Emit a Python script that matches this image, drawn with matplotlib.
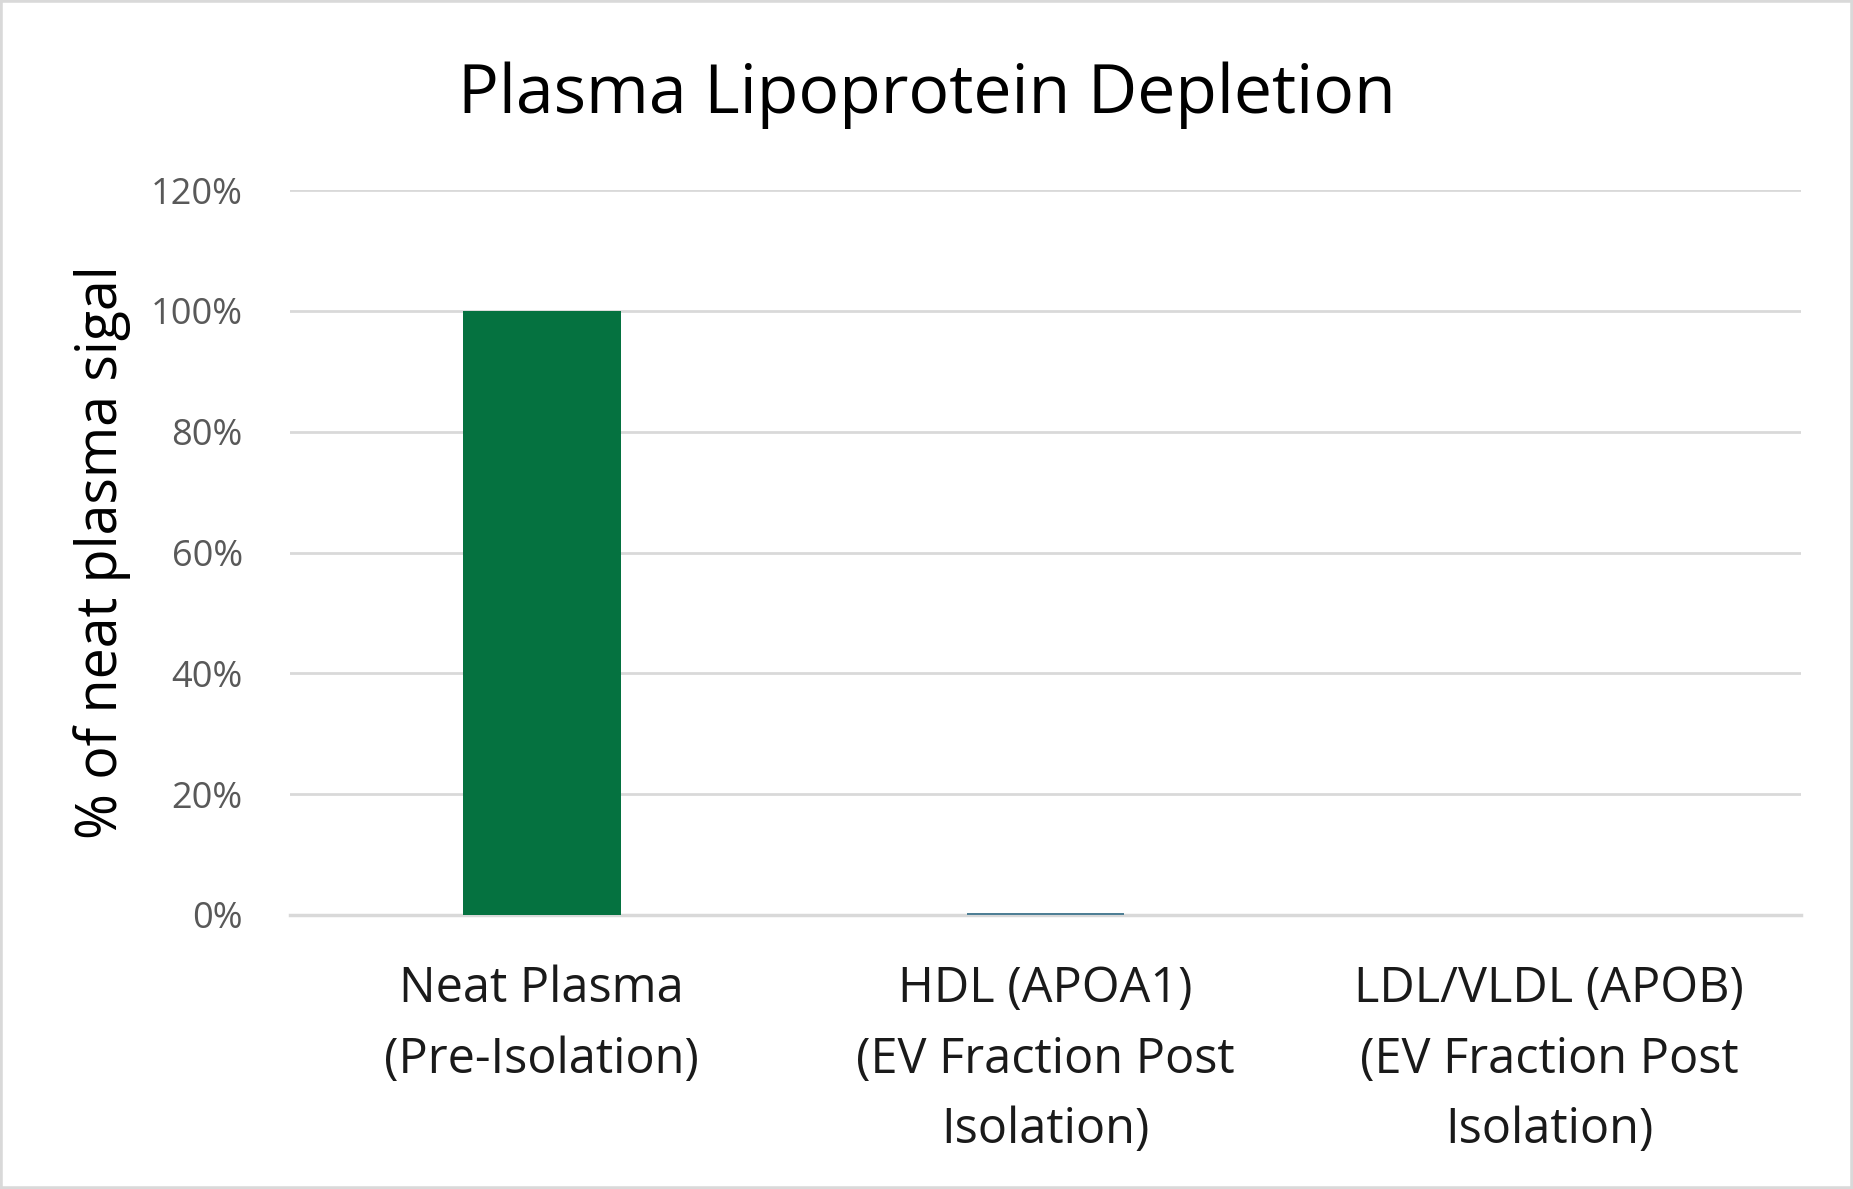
import matplotlib.pyplot as plt
from matplotlib.ticker import PercentFormatter
from matplotlib.patches import Rectangle

plt.rcParams['font.family'] = ['Open Sans', 'DejaVu Sans']

categories = ['Neat Plasma\n(Pre-Isolation)',
              'HDL (APOA1)\n(EV Fraction Post\nIsolation)',
              'LDL/VLDL (APOB)\n(EV Fraction Post\nIsolation)']
values = [100.0, 0.3, 0.0]
colors = ['#057240', '#4F7F95', '#4F7F95']

fig = plt.figure(figsize=(18.53, 11.89), dpi=100)
ax = fig.add_axes([290 / 1853, 1 - 915 / 1189, (1801 - 290) / 1853, (915 - 190) / 1189])

x = range(len(categories))
ax.bar(x, values, width=0.313, color=colors, zorder=3)

ax.set_ylim(0, 120)
ax.set_xlim(-0.5, 2.5)
ax.set_yticks(range(0, 121, 20))
ax.yaxis.set_major_formatter(PercentFormatter(decimals=0))
ax.grid(axis='y', color='#D9D9D9', linewidth=2, zorder=0)
ax.set_axisbelow(True)
for s in ['top', 'right', 'left']:
    ax.spines[s].set_visible(False)
ax.spines['bottom'].set_color('#D9D9D9')
ax.spines['bottom'].set_linewidth(2.5)
ax.tick_params(axis='both', length=0)
ax.tick_params(axis='y', labelsize=26, labelcolor='#595959', pad=34)
ax.set_xticks(list(x))
ax.set_xticklabels(categories, fontsize=35, color='#1a1a1a', linespacing=1.55)
ax.tick_params(axis='x', pad=36)

ax.set_ylabel('% of neat plasma sigal', fontsize=40, color='black', labelpad=14)
fig.text(0.5, 0.92, 'Plasma Lipoprotein Depletion', ha='center', va='center',
         fontsize=49, color='black')

fig.patches.append(Rectangle((0, 0), 1, 1, transform=fig.transFigure, fill=False,
                             edgecolor='#D9D9D9', linewidth=4))

fig.savefig('out.png', dpi=100)
